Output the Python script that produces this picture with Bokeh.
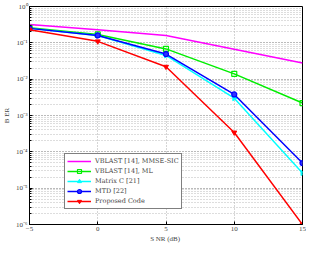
from bokeh.plotting import figure
from bokeh.models import FixedTicker, CustomJSTickFormatter, Legend, LegendItem
from bokeh.embed import file_html
from bokeh.resources import INLINE

snr = [-5, 0, 5, 10, 15]
mmse = [0.32, 0.23, 0.16, 0.067, 0.028]
ml = [0.26, 0.17, 0.068, 0.014, 0.0022]
matc = [0.25, 0.16, 0.045, 0.003, 2.6e-5]
mtd = [0.25, 0.16, 0.049, 0.0038, 4.9e-5]
prop = [0.23, 0.11, 0.022, 3.4e-4, 1.0e-6]
names = ["VBLAST [14], MMSE-SIC", "VBLAST [14], ML", "Matrix C [21]", "MTD [22]", "Proposed Code"]
xticks = [-5, 0, 5, 10, 15]

FONT = "Liberation Serif"
LFONT = "DejaVu Serif"

p = figure(frame_width=273, frame_height=218, x_range=(-5, 15), y_range=(1e-6, 1),
           y_axis_type="log", output_backend="svg", toolbar_location=None,
           min_border_left=0, min_border_right=4, min_border_top=6, min_border_bottom=0)

p.outline_line_color = "black"
p.outline_line_width = 1
p.background_fill_color = "white"

for ax in (p.xaxis[0], p.yaxis[0]):
    ax.major_label_text_font = FONT
    ax.major_label_text_font_size = "7px"
    ax.axis_label_text_font = FONT
    ax.axis_label_text_font_size = "7px"
    ax.axis_label_text_font_style = "normal"
    ax.major_tick_in = 3
    ax.major_tick_out = 0
    ax.minor_tick_in = 2
    ax.minor_tick_out = 0
    ax.axis_line_color = "black"

p.xaxis.ticker = FixedTicker(ticks=xticks)
p.xaxis.axis_label = "S NR  (dB)"
p.xaxis.axis_label_standoff = 1
p.xaxis.major_label_standoff = 2
p.yaxis.ticker.desired_num_ticks = 7
p.yaxis.axis_label = "B ER"
p.yaxis.axis_label_standoff = 2
p.yaxis.major_label_standoff = 2
p.yaxis.formatter = CustomJSTickFormatter(code="""
const sup = {'-':'\u207b','0':'\u2070','1':'\u00b9','2':'\u00b2','3':'\u00b3','4':'\u2074','5':'\u2075','6':'\u2076','7':'\u2077','8':'\u2078','9':'\u2079'};
const e = String(Math.round(Math.log10(tick)));
return '10' + e.split('').map(c => sup[c]).join('');
""")

p.xgrid.grid_line_color = "#aaaaaa"
p.xgrid.grid_line_dash = "1 2"
p.ygrid.grid_line_color = "#aaaaaa"
p.ygrid.grid_line_dash = "1 2"
p.ygrid.minor_grid_line_color = "#bbbbbb"
p.ygrid.minor_grid_line_dash = "1 2"

lw = 1.5
ms = 5
r1 = p.line(snr, mmse, line_color="#ff00ff", line_width=lw)
r2 = p.line(snr, ml, line_color="#00ee00", line_width=lw)
m2 = p.scatter(snr, ml, marker="square", size=ms, line_color="#00ee00", fill_color=None, line_width=1.2)
r3 = p.line(snr, matc, line_color="#00ffff", line_width=lw)
m3 = p.scatter(snr, matc, marker="triangle", angle=-1.5708, size=ms, line_color="#00ffff", fill_color="#00ffff")
r4 = p.line(snr, mtd, line_color="#0000ff", line_width=lw)
m4 = p.scatter(snr, mtd, marker="circle", size=ms, line_color="#0000ff", fill_color="#3030ff", line_width=1.2)
r5 = p.line(snr, prop, line_color="#ff0000", line_width=lw)
m5 = p.scatter(snr, prop, marker="inverted_triangle", size=ms, line_color="#ff0000", fill_color="#ff0000")

legend = Legend(items=[
    LegendItem(label=names[0], renderers=[r1]),
    LegendItem(label=names[1], renderers=[r2, m2]),
    LegendItem(label=names[2], renderers=[r3, m3]),
    LegendItem(label=names[3], renderers=[r4, m4]),
    LegendItem(label=names[4], renderers=[r5, m5]),
], location=(35, 15))
legend.label_text_font = LFONT
legend.label_text_font_size = "6.5px"
legend.label_height = 10
legend.glyph_height = 10
legend.glyph_width = 24
legend.spacing = 0
legend.padding = 2
legend.margin = 0
legend.label_standoff = 4
legend.border_line_color = "black"
legend.border_line_width = 1
legend.background_fill_alpha = 1
p.add_layout(legend)

open("out.html", "w").write(file_html(p, INLINE))
